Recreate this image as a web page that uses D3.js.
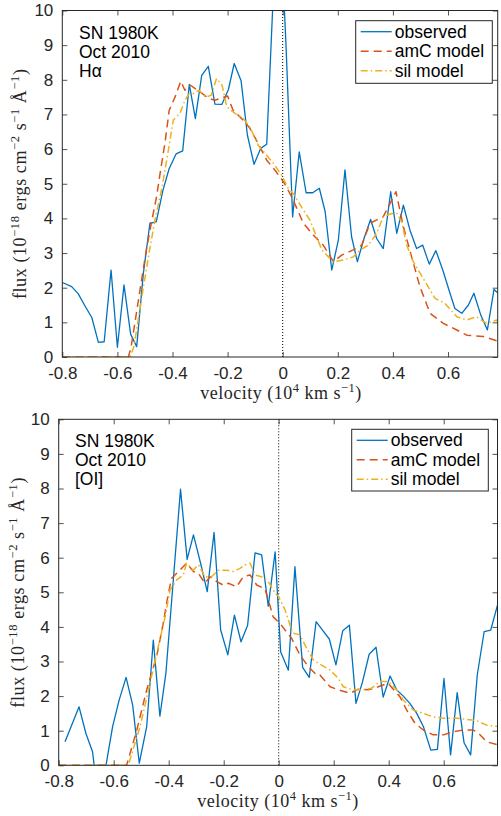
<!DOCTYPE html>
<html><head><meta charset="utf-8">
<script src="https://cdn.jsdelivr.net/npm/d3@7"></script>
<style>body{margin:0;background:#fff}svg{display:block}</style>
</head><body>
<svg id="c" width="501" height="816"></svg>
<script>
// ---------- data ----------
const xTicks = [-0.8, -0.6, -0.4, -0.2, 0, 0.2, 0.4, 0.6];
const xTickLabels = ["-0.8", "-0.6", "-0.4", "-0.2", "0", "0.2", "0.4", "0.6"];
const yTicks = [0, 1, 2, 3, 4, 5, 6, 7, 8, 9, 10];
const seriesNames = ["observed", "amC model", "sil model"];
const topNotes = ["SN 1980K", "Oct 2010", "H\u03b1"];
const botNotes = ["SN 1980K", "Oct 2010", "[OI]"];

// Top panel (H-alpha)
const topObsV = [-0.800,-0.766,-0.742,-0.718,-0.693,-0.669,-0.648,-0.623,-0.600,-0.576,-0.552,-0.530,-0.506,-0.482,-0.459,-0.435,-0.412,-0.387,-0.363,-0.339,-0.317,-0.294,-0.270,-0.246,-0.221,-0.197,-0.176,-0.151,-0.128,-0.104,-0.080,-0.058,-0.034,-0.011,0.012,0.036,0.060,0.085,0.109,0.133,0.154,0.178,0.202,0.226,0.250,0.271,0.295,0.319,0.341,0.365,0.392,0.414,0.438,0.462,0.486,0.508,0.532,0.556,0.581,0.603,0.625,0.650,0.674,0.694,0.719,0.743,0.767,0.789];
const topObsF = [2.15,2.03,1.82,1.48,1.14,0.42,0.44,2.51,0.28,2.08,0.66,0.30,2.40,3.86,3.90,4.80,5.44,5.86,5.95,7.87,6.88,8.13,8.39,7.30,7.29,7.72,8.47,7.97,6.40,5.56,6.02,6.14,10.5,13.0,9.0,4.04,5.92,4.74,4.74,4.87,4.20,2.51,3.37,5.40,3.47,2.75,3.42,3.97,3.42,3.13,4.77,3.57,4.38,3.66,3.13,3.23,2.68,3.07,2.51,1.95,1.40,1.26,1.50,1.84,1.21,0.78,1.95,1.79];
const topAmcV = [-0.8,-0.56,-0.55,-0.518,-0.495,-0.476,-0.458,-0.445,-0.427,-0.412,-0.391,-0.37,-0.355,-0.336,-0.3,-0.27,-0.246,-0.2,-0.18,-0.149,-0.119,-0.089,-0.058,-0.028,0.005,0.033,0.075,0.111,0.147,0.166,0.184,0.214,0.256,0.287,0.317,0.365,0.396,0.411,0.438,0.468,0.498,0.535,0.583,0.632,0.668,0.728,0.789];
const topAmcF = [0,0,0.3,1.93,3.09,3.9,4.62,5.3,6.2,7.12,7.5,7.96,7.7,7.85,7.65,7.47,7.41,7.53,7.12,6.88,6.6,6.16,5.68,5.39,5.03,4.62,3.86,3.52,3.23,2.99,2.75,2.94,3.09,3.23,3.86,4.05,4.53,4.77,3.76,2.89,2.03,1.26,0.97,0.78,0.63,0.59,0.44];
const topSilV = [-0.8,-0.554,-0.54,-0.51,-0.485,-0.465,-0.438,-0.421,-0.397,-0.373,-0.355,-0.339,-0.325,-0.303,-0.28,-0.26,-0.24,-0.22,-0.203,-0.173,-0.143,-0.119,-0.089,-0.064,-0.034,-0.004,0.02,0.038,0.075,0.099,0.123,0.142,0.166,0.184,0.22,0.256,0.281,0.311,0.341,0.365,0.396,0.415,0.432,0.45,0.474,0.51,0.553,0.589,0.632,0.668,0.704,0.74,0.777,0.79];
const topSilF = [0,0,0.3,1.8,3.0,3.9,4.9,5.68,6.84,7.03,7.41,7.6,7.6,7.7,7.5,7.55,8.04,7.84,7.22,7.03,6.88,6.64,6.11,5.88,5.59,5.25,4.87,4.72,4.24,3.95,3.47,3.09,2.89,2.75,2.8,2.89,3.09,3.23,3.57,4.05,4.14,4.14,3.9,3.23,2.75,2.27,1.69,1.55,1.16,1.07,1.16,0.97,1.07,0.8];

// Bottom panel ([OI])
const botObsV = [-0.777,-0.726,-0.701,-0.677,-0.671,-0.628,-0.604,-0.58,-0.555,-0.531,-0.507,-0.48,-0.456,-0.432,-0.41,-0.357,-0.333,-0.31,-0.284,-0.26,-0.235,-0.211,-0.185,-0.161,-0.137,-0.113,-0.086,-0.062,-0.038,-0.013,0.007,0.035,0.059,0.087,0.111,0.136,0.16,0.184,0.208,0.233,0.257,0.281,0.305,0.329,0.354,0.38,0.405,0.429,0.453,0.477,0.502,0.526,0.553,0.577,0.601,0.625,0.649,0.674,0.698,0.722,0.747,0.771,0.799];
const botObsF = [0.68,1.69,0.92,0.39,0,0,1.12,1.89,2.54,1.74,0.06,1.12,3.62,1.42,2.68,7.98,5.95,6.66,5.84,5.02,6.73,3.91,3.19,4.34,3.57,4.05,6.14,6.08,4.6,6.17,3.28,2.75,5.74,2.83,2.54,4.15,3.9,3.65,2.9,3.89,4.05,1.79,2.42,3.21,3.41,1.97,2.58,2.18,2.0,1.79,1.5,1.12,0.44,0.46,2.51,0.3,2.1,0.65,0.3,2.61,3.86,3.91,4.73];
const botAmcV = [-0.8,-0.553,-0.516,-0.48,-0.444,-0.42,-0.405,-0.39,-0.364,-0.335,-0.31,-0.292,-0.268,-0.25,-0.225,-0.2,-0.183,-0.153,-0.129,-0.104,-0.08,-0.05,-0.035,-0.02,0.005,0.023,0.047,0.077,0.108,0.138,0.15,0.187,0.217,0.259,0.289,0.326,0.362,0.398,0.441,0.465,0.496,0.526,0.562,0.599,0.635,0.671,0.708,0.73,0.756,0.799];
const botAmcF = [0,0,1.02,2.18,3.14,4.1,4.8,5.4,5.6,5.84,5.6,5.55,5.26,5.45,5.31,5.2,5.26,5.16,5.45,5.5,5.21,5.1,4.7,4.29,4.1,3.91,3.67,3.19,2.85,2.61,2.61,2.27,2.18,2.08,2.2,2.18,2.27,2.37,1.98,1.6,1.21,1.02,0.88,0.88,0.97,1.02,1.02,0.9,0.68,0.59];
const botSilV = [-0.8,-0.547,-0.504,-0.468,-0.438,-0.413,-0.395,-0.371,-0.347,-0.335,-0.311,-0.292,-0.268,-0.244,-0.22,-0.189,-0.165,-0.141,-0.123,-0.104,-0.086,-0.062,-0.038,-0.013,0.0,0.023,0.051,0.077,0.102,0.126,0.15,0.187,0.217,0.235,0.271,0.308,0.338,0.368,0.399,0.429,0.453,0.489,0.526,0.562,0.599,0.647,0.68,0.72,0.756,0.799];
const botSilF = [0,0,1.12,2.37,3.43,4.29,5.07,5.36,5.5,5.84,5.64,5.8,5.45,5.45,5.64,5.64,5.6,5.69,5.79,5.84,5.5,5.45,5.31,4.97,4.87,4.49,3.82,3.77,3.38,3.04,2.92,2.75,2.51,2.27,2.18,2.18,2.23,2.42,2.42,2.18,1.89,1.6,1.5,1.4,1.36,1.36,1.33,1.29,1.16,1.12];

// ---------- styles ----------
const colors = ["#0072BD", "#D95319", "#EDB120"];
const dashes = [null, "8,5", "7,3,1.5,3"];
const widths = [1.3, 1.5, 1.5];
const axisColor = "#262626";
const sansFont = "'Liberation Sans', Arial, sans-serif";
const serifFont = "'Liberation Serif', 'Times New Roman', serif";

const svg = d3.select("#c");
svg.append("rect").attr("width", 501).attr("height", 816).attr("fill", "#fff");

function zip(v, f) { return v.map((d, i) => [d, f[i]]); }

function supLabel(sel, parts) {
  // parts: [text, isSuperscript]
  let up = false;
  parts.forEach(([t, s]) => {
    const ts = sel.append("tspan").text(t);
    if (s && !up) { ts.attr("dy", -7).style("font-size", "12.5px"); up = true; }
    else if (s) { ts.style("font-size", "12.5px"); }
    else if (!s && up) { ts.attr("dy", 7); up = false; }
  });
}

function panel(cfg, idx) {
  const x = d3.scaleLinear().domain([-0.8, cfg.xmax]).range([cfg.left, cfg.right]);
  const y = d3.scaleLinear().domain([0, 10]).range([cfg.bottom, cfg.top]);
  const g = svg.append("g");
  const clipId = "clip" + idx;
  g.append("clipPath").attr("id", clipId).append("rect")
    .attr("x", cfg.left).attr("y", cfg.top)
    .attr("width", cfg.right - cfg.left).attr("height", cfg.bottom - cfg.top);
  const line = d3.line().x(d => x(d[0])).y(d => y(d[1]));
  const plot = g.append("g").attr("clip-path", `url(#${clipId})`);
  plot.append("line").attr("x1", x(0)).attr("x2", x(0)).attr("y1", y(0)).attr("y2", y(10))
    .attr("stroke", "#000").attr("stroke-width", 1).attr("stroke-dasharray", "1,2");
  cfg.series.forEach((s, i) => {
    plot.append("path").datum(s).attr("d", line).attr("fill", "none")
      .attr("stroke", colors[i]).attr("stroke-width", widths[i])
      .attr("stroke-linejoin", "round")
      .attr("stroke-dasharray", dashes[i]);
  });
  const tl = 5;
  const xb = g.append("g").attr("transform", `translate(0,${cfg.bottom})`)
    .call(d3.axisBottom(x).tickValues(xTicks).tickSizeInner(-tl).tickSizeOuter(0)
      .tickPadding(10).tickFormat((d, i) => xTickLabels[i]));
  const xt = g.append("g").attr("transform", `translate(0,${cfg.top})`)
    .call(d3.axisTop(x).tickValues(xTicks).tickSizeInner(-tl).tickSizeOuter(0).tickFormat(""));
  const yl = g.append("g").attr("transform", `translate(${cfg.left},0)`)
    .call(d3.axisLeft(y).tickValues(yTicks).tickSizeInner(-tl).tickSizeOuter(0)
      .tickPadding(9).tickFormat(d3.format("d")));
  const yr = g.append("g").attr("transform", `translate(${cfg.right},0)`)
    .call(d3.axisRight(y).tickValues(yTicks).tickSizeInner(-tl).tickSizeOuter(0).tickFormat(""));
  [xb, xt, yl, yr].forEach(a => {
    a.select(".domain").remove();
    a.selectAll("line").attr("stroke", axisColor).attr("stroke-width", 0.8);
    a.selectAll("text").attr("fill", axisColor).style("font-family", sansFont).style("font-size", "17px");
  });
  xb.selectAll("text").attr("dy", "0.71em");
  g.append("rect").attr("x", cfg.left).attr("y", cfg.top)
    .attr("width", cfg.right - cfg.left).attr("height", cfg.bottom - cfg.top)
    .attr("fill", "none").attr("stroke", axisColor).attr("stroke-width", 1);

  // axis labels
  const xl = g.append("text").attr("x", cfg.xlabX).attr("y", cfg.bottom + 42)
    .attr("text-anchor", "middle").attr("fill", axisColor)
    .style("font-family", serifFont).style("font-size", "18px").style("letter-spacing", "0.5px");
  supLabel(xl, [["velocity (10", false], ["4", true], [" km s", false], ["\u22121", true], [")", false]]);

  const cy = (cfg.top + cfg.bottom) / 2;
  const ylb = g.append("text").attr("transform", `translate(${cfg.ylabX},${cy}) rotate(-90)`)
    .attr("text-anchor", "middle").attr("fill", axisColor)
    .style("font-family", serifFont).style("font-size", "18px").style("letter-spacing", "0.6px");
  supLabel(ylb, [["flux (10", false], ["\u221218", true], [" ergs cm", false], ["\u22122", true],
    [" s", false], ["\u22121", true], [" \u00c5", false], ["\u22121", true], [")", false]]);

  cfg.notes.forEach((t, i) => {
    g.append("text").attr("x", cfg.noteX).attr("y", cfg.noteY + i * 19)
      .attr("fill", "#000").style("font-family", sansFont).style("font-size", "17.5px").text(t);
  });

  const L = cfg.legend;
  g.append("rect").attr("x", L.x).attr("y", L.y).attr("width", L.w).attr("height", L.h)
    .attr("fill", "#fff").attr("stroke", axisColor).attr("stroke-width", 1);
  seriesNames.forEach((n, i) => {
    const ry = L.y + 11 + i * 19.5;
    g.append("line").attr("x1", L.x + 5).attr("x2", L.x + 36).attr("y1", ry).attr("y2", ry)
      .attr("stroke", colors[i]).attr("stroke-width", widths[i]).attr("stroke-dasharray", dashes[i]);
    g.append("text").attr("x", L.x + 39).attr("y", ry).attr("dy", "0.35em")
      .attr("fill", "#000").style("font-family", sansFont).style("font-size", "17.5px").text(n);
  });
}

panel({
  left: 62.3, right: 497.7, top: 10.5, bottom: 357, xmax: 0.7804, ylabX: 26, xlabX: 281,
  series: [zip(topObsV, topObsF), zip(topAmcV, topAmcF), zip(topSilV, topSilF)],
  notes: topNotes, noteX: 79, noteY: 38.5,
  legend: { x: 355.7, y: 20.7, w: 136.6, h: 62.6 }
}, 0);

panel({
  left: 58.7, right: 497.5, top: 419.3, bottom: 765.3, xmax: 0.7956, ylabX: 23.5, xlabX: 278,
  series: [zip(botObsV, botObsF), zip(botAmcV, botAmcF), zip(botSilV, botSilF)],
  notes: botNotes, noteX: 75, noteY: 447,
  legend: { x: 351.7, y: 429.3, w: 136.6, h: 61.7 }
}, 1);
</script>
</body></html>
